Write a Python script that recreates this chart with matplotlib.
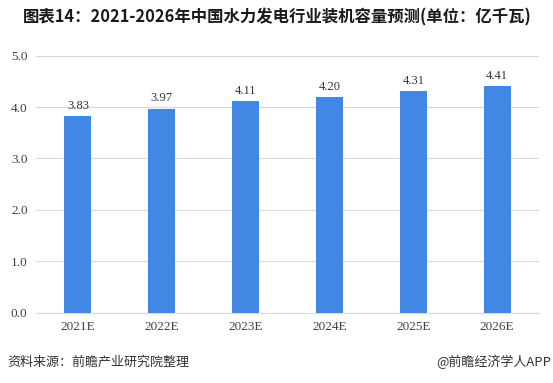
import matplotlib.pyplot as plt

plt.rcParams['font.family'] = ['Noto Sans CJK SC', 'DejaVu Sans']

years = ['2021E', '2022E', '2023E', '2024E', '2025E', '2026E']
capacity = [3.83, 3.97, 4.11, 4.20, 4.31, 4.41]
yticks = [0.0, 1.0, 2.0, 3.0, 4.0, 5.0]

fig = plt.figure(figsize=(5.53, 3.83), dpi=100)
ax = fig.add_axes([0.065, 0.183, 0.91, 0.672])

x = range(len(years))
ax.bar(x, capacity, width=0.32, color='#4187E3', zorder=3)

# 数值标签
for i, v in zip(x, capacity):
    ax.text(i, v + 0.08, f'{v:.2f}', ha='center', va='bottom',
            fontsize=9, family='Liberation Serif', color='#333333')

ax.set_xlim(-0.5, len(years) - 0.5)
ax.set_ylim(0, 5)
ax.set_yticks(yticks)
ax.set_yticklabels([f'{t:.1f}' for t in yticks], family='Liberation Serif',
                   fontsize=9.5, color='#404040')
ax.set_xticks(list(x))
ax.set_xticklabels(years, family='Liberation Serif', fontsize=9.5, color='#404040')
ax.tick_params(length=0, pad=6)
ax.grid(axis='y', color='#D9D9D9', linewidth=0.8, zorder=0)
for s in ['top', 'right', 'left']:
    ax.spines[s].set_visible(False)
ax.spines['bottom'].set_color('#D9D9D9')

fig.text(0.042, 0.955, '图表14：2021-2026年中国水力发电行业装机容量预测(单位：亿千瓦)',
         fontsize=11.8, fontweight='bold', color='#1a1a1a', va='center',
         family=['Noto Sans CJK SC', 'DejaVu Sans'])
fig.text(0.013, 0.055, '资料来源：前瞻产业研究院整理', fontsize=9.4, color='#333333',
         va='center')
fig.text(0.997, 0.055, '@前瞻经济学人APP', fontsize=9.4, color='#333333',
         va='center', ha='right')

fig.savefig('out.png', dpi=100)
